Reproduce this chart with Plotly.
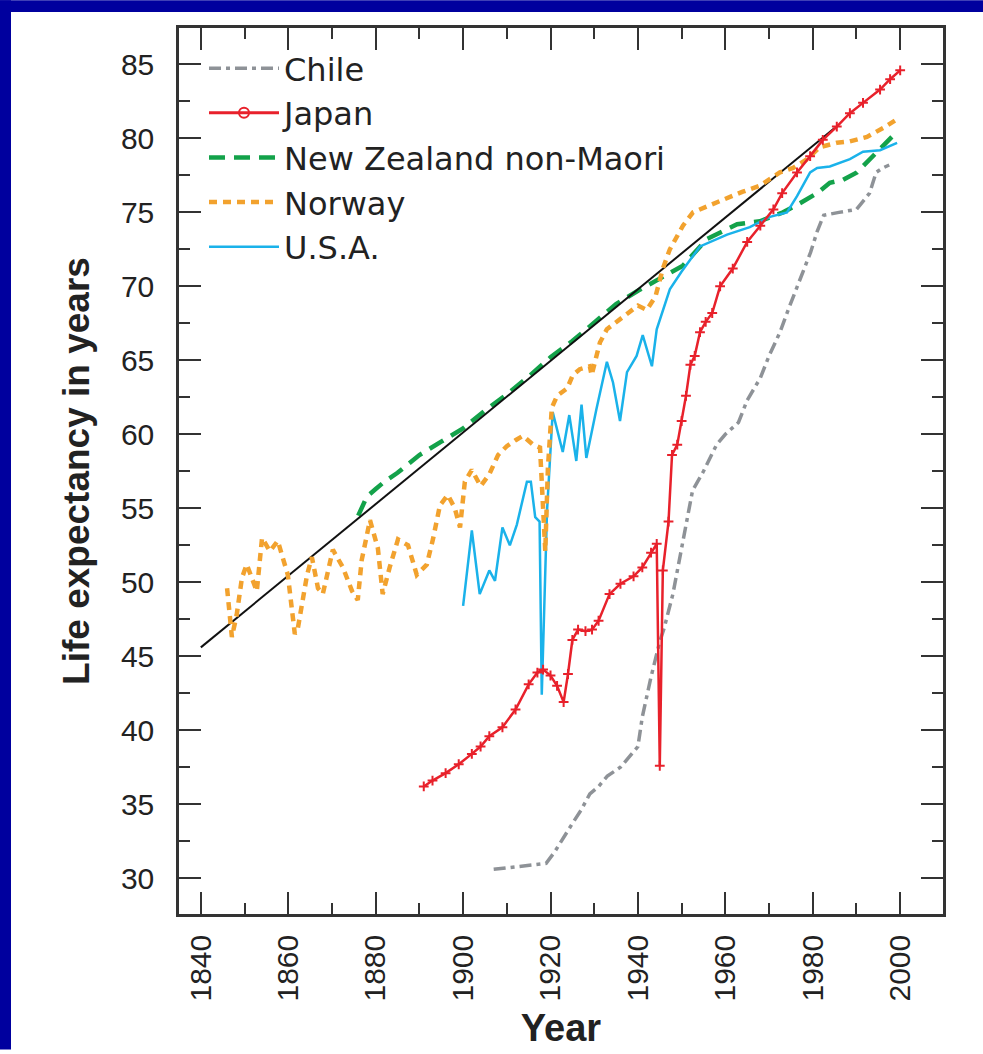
import plotly.graph_objects as go

# ---- data -------------------------------------------------------------
best_year = [1840, 1985]
best_val = [45.6, 80.7]

chile_year = [1907, 1910, 1913, 1916, 1919, 1921, 1923, 1925, 1927, 1929, 1931, 1933,
              1936, 1938, 1940, 1941, 1943, 1945, 1946, 1948, 1949.5, 1951, 1952.5,
              1955, 1958, 1960, 1963, 1965, 1968, 1970, 1972.5, 1974.5, 1976.5, 1979.5,
              1981, 1982.5, 1986, 1990, 1993, 1994.5, 1996, 1997.5]
chile_val = [30.6, 30.7, 30.8, 30.9, 31.0, 31.8, 32.8, 33.7, 34.6, 35.7, 36.2, 36.9,
             37.5, 38.2, 38.9, 40.9, 43.6, 46.0, 46.9, 49.2, 51.5, 53.7, 56.2,
             57.5, 59.3, 60.0, 60.8, 62.3, 63.8, 65.3, 66.9, 68.5, 70.0, 72.3,
             73.7, 74.8, 75.0, 75.2, 76.3, 77.7, 78.0, 78.2]

japan_year = [1891, 1893, 1896, 1899, 1902, 1904, 1906, 1909, 1912, 1915, 1917, 1918.3,
              1920, 1921.5, 1923, 1924, 1925, 1926.3, 1928, 1929.5, 1931, 1933.5, 1936,
              1939, 1941, 1943, 1944.3, 1945, 1945.7, 1947, 1947.8, 1949, 1950, 1951,
              1952, 1953, 1954.2, 1955.5, 1957, 1958.8, 1961.7, 1965, 1968, 1971, 1973,
              1976.4, 1979.4, 1982.3, 1985.5, 1988.5, 1991.5, 1995.4, 1997.7, 2000]
japan_val = [36.2, 36.6, 37.1, 37.7, 38.4, 38.9, 39.6, 40.2, 41.4, 43.1, 43.9, 44.1,
             43.7, 43.0, 41.9, 43.8, 46.1, 46.8, 46.7, 46.8, 47.4, 49.2, 49.9,
             50.4, 51.0, 52.0, 52.6, 37.6, 50.8, 54.1, 58.6, 59.3, 60.9, 62.6,
             64.7, 65.3, 66.9, 67.6, 68.2, 70.0, 71.2, 73.0, 74.1, 75.2, 76.3,
             77.7, 78.8, 79.9, 80.8, 81.7, 82.4, 83.3, 84.0, 84.6]

nz_year = [1876, 1878, 1880, 1882, 1885, 1890, 1895, 1900, 1905, 1910, 1915, 1920,
           1925, 1930, 1935, 1940, 1944.3, 1950.3, 1955.8, 1962.7, 1967.9, 1973.2,
           1976.4, 1981, 1983.9, 1986.9, 1990.1, 1993.8, 1996.1, 1998.1]
nz_val = [54.5, 55.8, 56.3, 56.8, 57.4, 58.6, 59.5, 60.4, 61.6, 62.7, 63.9, 65.2,
          66.3, 67.6, 68.8, 69.7, 70.4, 71.4, 73.2, 74.2, 74.4, 75.0,
          75.5, 76.3, 77.0, 77.2, 77.7, 78.8, 79.4, 80.1]

norway_year = [1846, 1847.1, 1848.2, 1849.4, 1850.5, 1852.8, 1854, 1855.8, 1857.6, 1859.2,
               1859.9, 1861.5, 1862.2, 1864.3, 1865.4, 1866.8, 1867.9, 1870.2, 1872.5,
               1874.6, 1875.9, 1876.8, 1878.7, 1880.5, 1881.6, 1883.2, 1885.1, 1887.4,
               1889.4, 1891.7, 1893.1, 1894.7, 1896.5, 1898.1, 1899.3, 1900.4, 1902,
               1904, 1906, 1908, 1910, 1912, 1913.7, 1916, 1917.6, 1918.8, 1919.4,
               1920.3, 1921.5, 1923.8, 1925.1, 1926.7, 1929, 1929.4, 1931.3, 1932.9,
               1935, 1938, 1940, 1942, 1944, 1945.7, 1947.3, 1950.3, 1952.6, 1955.8,
               1960.4, 1964, 1967.9, 1972.5, 1975.5, 1978.7, 1981.6, 1985.5, 1988.5,
               1992.4, 1996.1, 1999.3]
norway_val = [49.6, 46.3, 47.8, 50.3, 51.2, 49.4, 53.0, 52.1, 52.8, 51.3,
              50.5, 46.5, 46.9, 50.5, 51.7, 49.6, 49.2, 52.2, 51.0,
              49.4, 48.8, 51.5, 54.2, 52.3, 49.2, 51.0, 52.9, 52.5,
              50.5, 51.2, 52.9, 55.2, 55.9, 55.0, 53.7, 56.8, 57.6,
              56.5, 57.3, 58.6, 59.2, 59.6, 59.9, 59.3, 59.1, 52.1, 57.7,
              61.8, 62.6, 63.1, 64.0, 64.4, 64.6, 64.0, 66.2, 67.1,
              67.6, 68.3, 68.7, 68.4, 69.3, 71.2, 72.5, 74.1, 75.0, 75.4,
              76.0, 76.4, 76.8, 77.7, 78.0, 78.6, 79.4, 79.7, 79.8,
              80.1, 80.7, 81.3]

usa_year = [1900, 1902, 1903.8, 1906, 1907.3, 1909, 1910.7, 1912.3, 1914.6, 1915.5,
            1916.5, 1917.5, 1918, 1919.2, 1920.5, 1922.8, 1924.3, 1925.9, 1927.1,
            1928.2, 1930.5, 1932.9, 1934.3, 1935.9, 1937.5, 1939.7, 1941.1, 1943.2,
            1944.3, 1946, 1947.3, 1950, 1954.2, 1960.4, 1965.6, 1970.2, 1974.1,
            1976.4, 1979.4, 1981, 1983.9, 1988.5, 1991.5, 1995.4, 1999.3]
usa_val = [48.4, 53.5, 49.2, 50.8, 50.1, 53.7, 52.5, 53.9, 56.8, 56.8,
           54.4, 54.1, 42.4, 54.8, 61.5, 58.8, 61.3, 58.2, 62.0,
           58.4, 61.7, 64.9, 63.5, 60.9, 64.2, 65.3, 66.7, 64.6,
           67.1, 68.6, 69.8, 71.0, 72.7, 73.5, 74.0, 74.7, 75.0,
           76.1, 77.7, 78.0, 78.1, 78.6, 79.1, 79.2, 79.7]

x_ticks = [1840, 1860, 1880, 1900, 1920, 1940, 1960, 1980, 2000]
y_ticks = [30, 35, 40, 45, 50, 55, 60, 65, 70, 75, 80, 85]

# ---- styling ----------------------------------------------------------
FONT = "Liberation Sans, Arial, Helvetica, sans-serif"
LEGEND_FONT = "DejaVu Sans, Liberation Sans, sans-serif"
AXIS_COL = "#333333"
TEXT_COL = "#222222"
RED = "#e8212b"
FRAME_BLUE = "#00009e"

fig = go.Figure()

fig.add_trace(go.Scatter(x=chile_year, y=chile_val, mode="lines", name="Chile",
                         line=dict(color="#8e9297", width=3.5, dash="12px,5px,4px,5px"),
                         legendrank=1))
fig.add_trace(go.Scatter(x=nz_year, y=nz_val, mode="lines", name="New Zealand non-Maori",
                         line=dict(color="#13a24a", width=4.5, dash="16px,9px"),
                         legendrank=3))
# record life expectancy trend, on top of the New Zealand dashes
fig.add_trace(go.Scatter(x=best_year, y=best_val, mode="lines",
                         line=dict(color="#111111", width=2),
                         showlegend=False, hoverinfo="skip"))
fig.add_trace(go.Scatter(x=usa_year, y=usa_val, mode="lines", name="U.S.A.",
                         line=dict(color="#1ab2ea", width=2.5),
                         legendrank=5))
fig.add_trace(go.Scatter(x=norway_year, y=norway_val, mode="lines", name="Norway",
                         line=dict(color="#f2a22e", width=4.5, dash="8px,6px"),
                         legendrank=4))
fig.add_trace(go.Scatter(x=japan_year, y=japan_val, mode="lines+markers", name="Japan",
                         line=dict(color=RED, width=2.5),
                         marker=dict(symbol="cross-thin", size=7,
                                     line=dict(color=RED, width=2)),
                         showlegend=False))
# legend key for Japan (open circle on a line)
fig.add_trace(go.Scatter(x=[None], y=[None], mode="lines+markers", name="Japan",
                         line=dict(color=RED, width=3),
                         marker=dict(symbol="circle-open", size=10,
                                     color=RED, line=dict(color=RED, width=2)),
                         legendrank=2))

axis_common = dict(
    showline=True, linecolor=AXIS_COL, linewidth=2.5, mirror="ticks",
    ticks="inside", tickcolor=AXIS_COL, tickwidth=2, ticklen=22,
    showgrid=False, zeroline=False,
    tickfont=dict(family=FONT, size=30, color=TEXT_COL),
)

fig.update_xaxes(
    range=[1835.0, 2009.8], tickvals=x_ticks, tickangle=-90,
    minor=dict(dtick=10, tick0=1840, ticks="inside", ticklen=11,
               tickwidth=2, tickcolor=AXIS_COL, showgrid=False),
    title=dict(text="<b>Year</b>", font=dict(family=FONT, size=38, color=TEXT_COL),
               standoff=14),
    ticklabelstandoff=6,
    **axis_common,
)
fig.update_yaxes(
    range=[27.58, 87.46], tickvals=y_ticks,
    minor=dict(dtick=2.5, tick0=30, ticks="inside", ticklen=11,
               tickwidth=2, tickcolor=AXIS_COL, showgrid=False),
    title=dict(text="<b>Life expectancy in years</b>",
               font=dict(family=FONT, size=37, color=TEXT_COL), standoff=20),
    ticklabelstandoff=16,
    **axis_common,
)

# page: dark blue band along the top and left edges
W, H = 983, 1054
L, R, T, B = 179, 40, 28, 136
pw, ph = W - L - R, H - T - B


def px_x(p):
    return (p - L) / pw


def px_y(p):
    return 1 - (p - T) / ph


fig.add_shape(type="rect", xref="paper", yref="paper", layer="below",
              x0=px_x(0), x1=px_x(W), y0=px_y(12), y1=px_y(0),
              fillcolor=FRAME_BLUE, line=dict(width=0))
fig.add_shape(type="rect", xref="paper", yref="paper", layer="below",
              x0=px_x(0), x1=px_x(11), y0=px_y(H), y1=px_y(0),
              fillcolor=FRAME_BLUE, line=dict(width=0))

fig.update_layout(
    width=W, height=H,
    margin=dict(l=L, r=R, t=T, b=B, pad=0),
    paper_bgcolor="white", plot_bgcolor="white",
    font=dict(family=FONT, color=TEXT_COL),
    showlegend=True,
    legend=dict(x=px_x(204), y=px_y(41), xanchor="left", yanchor="top",
                bgcolor="rgba(0,0,0,0)", borderwidth=0,
                font=dict(family=LEGEND_FONT, size=32, color=TEXT_COL),
                itemwidth=70, tracegroupgap=0, traceorder="normal"),
)

fig.write_html("out.html")
